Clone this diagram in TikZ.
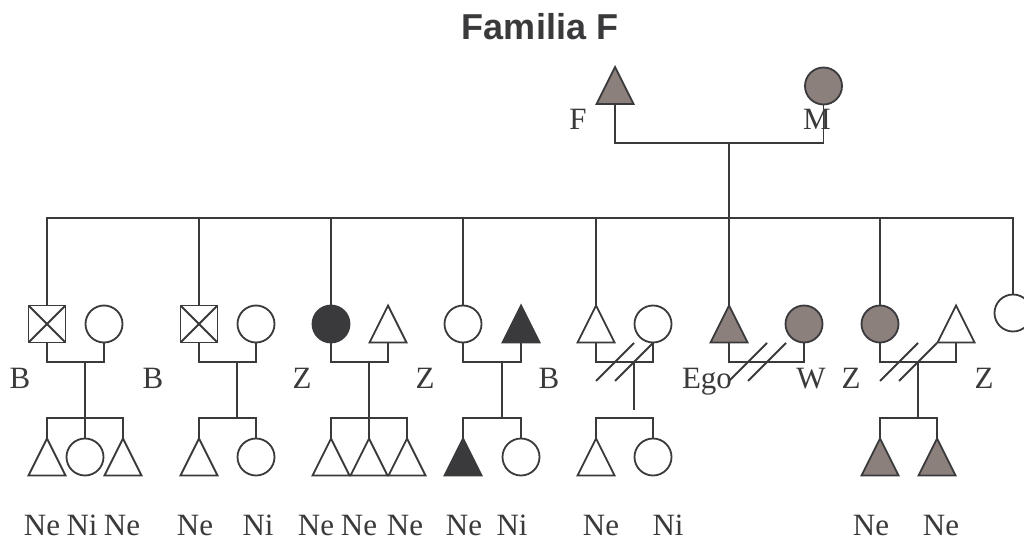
\documentclass[tikz,border=0pt]{standalone}
\usepackage{fontspec}
\setmainfont{Liberation Serif}
\newfontfamily\titlefont{Liberation Sans}
\usetikzlibrary{shapes.geometric}
\definecolor{ink}{RGB}{58,58,60}
\definecolor{taupe}{RGB}{140,128,124}
\tikzset{
  link/.style={draw=ink, line width=1.8pt},
  person/.style={draw=ink, line width=1.8pt, inner sep=0pt, outer sep=0pt, fill=white},
  male/.style={person, isosceles triangle, shape border rotate=90,
    isosceles triangle stretches, minimum width=37pt, minimum height=37pt, anchor=south},
  female/.style={person, circle, minimum size=37pt},
  lost/.style={person, rectangle, minimum size=37pt,
    path picture={\draw[ink, line width=1.8pt]
      (path picture bounding box.south west) -- (path picture bounding box.north east)
      (path picture bounding box.north west) -- (path picture bounding box.south east);}},
  shaded/.style={fill=taupe},
  dark/.style={fill=ink},
  tag/.style={text=ink, font=\fontsize{31}{37}\selectfont, inner sep=0pt, anchor=base},
}
% two strokes across a marriage line mark a divorce
\newcommand\splitmark[1]{%
  \draw[link, shift={(#1)}] (-38,19) -- (0,-19) (-19,19) -- (19,-19);}
\begin{document}
\begin{tikzpicture}[x=1pt, y=-1pt]
\clip (0,0) rectangle (1024,540);
\fill[white] (0,0) rectangle (1024,540);

\node[text=ink, font=\titlefont\bfseries\fontsize{36}{42}\selectfont, inner sep=0pt, anchor=base]
  (title) at (540,40) {Familia F};

% parents
\node[male, shaded] (pf) at (615,104) {};
\node[female, shaded] (pm) at (823.5,86) {};
\node[tag] (lf) at (578,130) {F};
\node[tag] (lm) at (817,130) {M};

% siblings and spouses
\node[lost] (b1) at (47,324) {};
\node[female] (w1) at (104,324) {};
\node[lost] (b2) at (199,324) {};
\node[female] (w2) at (256,324) {};
\node[female, dark] (z3) at (331,324) {};
\node[male] (h3) at (388,342.5) {};
\node[female] (z4) at (463,324) {};
\node[male, dark] (h4) at (521,342.5) {};
\node[male] (b5) at (596,342.5) {};
\node[female] (w5) at (653,324) {};
\node[male, shaded] (ego) at (729,342.5) {};
\node[female, shaded] (wf) at (804,324) {};
\node[female, shaded] (z7) at (880,324) {};
\node[male] (h7) at (956,342.5) {};
\node[female] (z8) at (1013,313) {};

\node[tag] (lb1) at (20,388) {B};
\node[tag] (lb2) at (153,388) {B};
\node[tag] (lz3) at (302,388) {Z};
\node[tag] (lz4) at (425,388) {Z};
\node[tag] (lb5) at (549,388) {B};
\node[tag] (lego) at (707,388) {Ego};
\node[tag] (lw) at (811,388) {W};
\node[tag] (lz7) at (851,388) {Z};
\node[tag] (lz8) at (984,388) {Z};

% children
\node[male] (k11) at (47,475.5) {};
\node[female] (k12) at (85,457) {};
\node[male] (k13) at (123,475.5) {};
\node[male] (k21) at (199,475.5) {};
\node[female] (k22) at (256,457) {};
\node[male] (k31) at (331,475.5) {};
\node[male] (k32) at (369,475.5) {};
\node[male] (k33) at (407,475.5) {};
\node[male, dark] (k41) at (463,475.5) {};
\node[female] (k42) at (521,457) {};
\node[male] (k51) at (596,475.5) {};
\node[female] (k52) at (653,457) {};
\node[male, shaded] (k71) at (880,475.5) {};
\node[male, shaded] (k72) at (937,475.5) {};

\foreach \x/\t [count=\i] in {42/Ne, 82/Ni, 122/Ne, 195/Ne, 258/Ni, 316/Ne, 359/Ne, 405/Ne,
    464/Ne, 512/Ni, 601/Ne, 668/Ni, 871/Ne, 941/Ne}
  \node[tag] (n\i) at (\x,535) {\t};

% parents' marriage and descent
\coordinate (pc) at (729,143);
\draw[link] (pf.south) |- (pc) -| (pm.south);
\coordinate (sl) at (47,218);
\coordinate (sr) at (1013,218);
\draw[link] (pc) -- (ego.north |- sl);
\draw[link, line cap=rect] (sl) -- (sr);
\foreach \n in {b1,b2,z3,z4,b5,ego,z7,z8}
  \draw[link] (\n.north) -- (\n.north |- sl);

% family 1
\coordinate (m1) at (85,362); \coordinate (c1) at (85,418);
\draw[link] (b1.south) |- (m1) -| (w1.south);
\draw[link] (m1) -- (c1);
\draw[link] (k11.north) |- (c1) -| (k13.north);
\draw[link] (k12.north) -- (c1);
% family 2
\coordinate (m2) at (237,362); \coordinate (c2) at (237,418);
\draw[link] (b2.south) |- (m2) -| (w2.south);
\draw[link] (m2) -- (c2);
\draw[link] (k21.north) |- (c2) -| (k22.north);
% family 3
\coordinate (m3) at (369,362); \coordinate (c3) at (369,418);
\draw[link] (z3.south) |- (m3) -| (h3.south);
\draw[link] (m3) -- (c3);
\draw[link] (k31.north) |- (c3) -| (k33.north);
\draw[link] (k32.north) -- (c3);
% family 4
\coordinate (m4) at (502,362); \coordinate (c4) at (502,418);
\draw[link] (z4.south) |- (m4) -| (h4.south);
\draw[link] (m4) -- (c4);
\draw[link] (k41.north) |- (c4) -| (k42.north);
% family 5 (divorced)
\coordinate (m5) at (634,362); \coordinate (c5) at (634,410); \coordinate (r5) at (634,418);
\draw[link] (b5.south) |- (m5) -| (w5.south);
\draw[link] (m5) -- (c5);
\draw[link] (k51.north) |- (r5) -| (k52.north);
\splitmark{m5}
% Ego (divorced)
\coordinate (m6) at (767,362);
\draw[link] (ego.south) |- (m6) -| (wf.south);
\splitmark{m6}
% family 7 (divorced)
\coordinate (m7) at (918,362); \coordinate (c7) at (918,418);
\draw[link] (z7.south) |- (m7) -| (h7.south);
\draw[link] (m7) -- (c7);
\draw[link] (k71.north) |- (c7) -| (k72.north);
\splitmark{m7}
\end{tikzpicture}
\end{document}
